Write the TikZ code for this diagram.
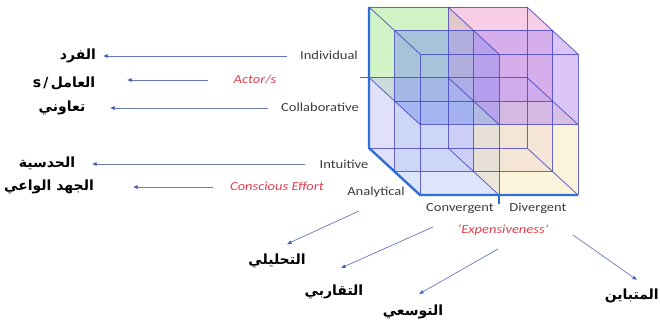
\documentclass[tikz,border=0pt]{standalone}
\usepackage{fontspec}
\setmainfont{Carlito}[FakeStretch=1.18]
\newfontfamily\arabicfont[Script=Arabic]{DejaVu Sans}
\TeXXeTstate=1
\usetikzlibrary{arrows.meta}
\definecolor{txtgray}{HTML}{3C3C3C}
\definecolor{lblred}{HTML}{E0404F}
\definecolor{arrline}{HTML}{6A78B6}
\definecolor{arrhead}{HTML}{3E5CBE}
\definecolor{gridline}{HTML}{4444C0}
\definecolor{thickblue}{HTML}{2F6ED6}
\definecolor{cgreen}{HTML}{A8E890}
\definecolor{cpink}{HTML}{F4A0D2}
\definecolor{cblue}{HTML}{7F98F0}
\definecolor{cviolet}{HTML}{B890F0}
\definecolor{clav}{HTML}{C4C4F6}
\definecolor{cpinklav}{HTML}{E0C4F4}
\definecolor{clblue}{HTML}{BCCEF6}
\definecolor{cyellow}{HTML}{FBEBB8}
\newcommand\cpt[3]{({369+79*(#1)+25.5*(#3)},{7+70.5*(#2)+23.5*(#3)})}
\newcommand\cellbox[4]{%
  \fill[#4,fill opacity=0.3] \cpt{#1}{#2}{#3} -- \cpt{#1+1}{#2}{#3} -- \cpt{#1+1}{#2+1}{#3} -- \cpt{#1}{#2+1}{#3} -- cycle;
  \fill[#4,fill opacity=0.3] \cpt{#1}{#2}{#3+1} -- \cpt{#1+1}{#2}{#3+1} -- \cpt{#1+1}{#2+1}{#3+1} -- \cpt{#1}{#2+1}{#3+1} -- cycle;
  \fill[#4,fill opacity=0.3] \cpt{#1}{#2}{#3} -- \cpt{#1+1}{#2}{#3} -- \cpt{#1+1}{#2}{#3+1} -- \cpt{#1}{#2}{#3+1} -- cycle;
  \fill[#4,fill opacity=0.3] \cpt{#1}{#2+1}{#3} -- \cpt{#1+1}{#2+1}{#3} -- \cpt{#1+1}{#2+1}{#3+1} -- \cpt{#1}{#2+1}{#3+1} -- cycle;
  \fill[#4,fill opacity=0.3] \cpt{#1}{#2}{#3} -- \cpt{#1}{#2+1}{#3} -- \cpt{#1}{#2+1}{#3+1} -- \cpt{#1}{#2}{#3+1} -- cycle;
  \fill[#4,fill opacity=0.3] \cpt{#1+1}{#2}{#3} -- \cpt{#1+1}{#2+1}{#3} -- \cpt{#1+1}{#2+1}{#3+1} -- \cpt{#1+1}{#2}{#3+1} -- cycle;
}
\begin{document}
\begin{tikzpicture}[x=1pt,y=-1pt,
  lab/.style={text=txtgray,font=\fontsize{12.3}{14}\selectfont,inner sep=0pt},
  redlab/.style={text=lblred,font=\fontsize{12.3}{14}\selectfont\itshape,inner sep=0pt},
  ar/.style={text=black,font=\arabicfont\bfseries\fontsize{14}{17}\selectfont,inner sep=0pt},
  arr/.style={draw=arrline,line width=0.7pt,-{Latex[length=4.5pt,width=4pt,color=arrhead]}},
  gridl/.style={draw=gridline,line width=0.85pt,draw opacity=0.8},
  thick axis/.style={draw=thickblue,line width=2.4pt,line join=round}]
\useasboundingbox (0,0) rectangle (660,328);
\fill[white] (0,0) rectangle (660,328);
% cube cells
\cellbox{0}{0}{0}{cgreen}
\cellbox{1}{0}{0}{cpink}
\cellbox{0}{1}{0}{clav}
\cellbox{1}{1}{0}{cpinklav}
\cellbox{0}{1}{1}{clblue}
\cellbox{1}{1}{1}{cyellow}
\cellbox{0}{0}{1}{cblue}
\cellbox{1}{0}{1}{cviolet}
% grid lines
\foreach \a in {0,1,2}{\foreach \b in {0,1,2}{
  \draw[gridl] \cpt{0}{\a}{\b} -- \cpt{2}{\a}{\b};
  \draw[gridl] \cpt{\a}{0}{\b} -- \cpt{\a}{2}{\b};
  \draw[gridl] \cpt{\a}{\b}{0} -- \cpt{\a}{\b}{2};
}}
% thick axes
\coordinate (cA) at (369,7);
\coordinate (cB) at (369,148);
\coordinate (cC) at (420,195);
\coordinate (cD) at (578,195);
\coordinate (tickL) at (369,77.5);
\coordinate (tickB) at (499,195);
\draw[thick axis] (cA) -- (cB) -- (cC) -- (cD);
\draw[draw=thickblue,line width=1.6pt] (tickL) -- ++(-9,0);
\draw[draw=thickblue,line width=1.6pt] (tickB) -- ++(0,9);
% left labels
\node[lab] (indiv) at (329,55) {Individual};
\node[redlab] (actor) at (255,80) {Actor/s};
\node[lab] (collab) at (320,107) {Collaborative};
\node[lab] (intuit) at (344,164) {Intuitive};
\node[redlab] (consc) at (277,186) {Conscious Effort};
\node[lab] (analyt) at (376,192) {Analytical};
\node[lab] (conv) at (460,209) {Convergent};
\node[lab] (div) at (538,208) {Divergent};
\node[redlab] (expens) at (503,230) {`Expensiveness'};
% arabic labels
\node[ar] (fard) at (78,56) {\beginR الفرد\endR};
\node[ar] (amil) at (64,83) {s\,/\,\beginR العامل\endR};
\node[ar] (taawuni) at (62,108) {\beginR تعاوني\endR};
\node[ar] (hads) at (47,163) {\beginR الحدسية\endR};
\node[ar] (juhd) at (49,187) {\beginR الجهد الواعي\endR};
\node[ar] (tahlili) at (277,261) {\beginR التحليلي\endR};
\node[ar] (taqarubi) at (334,292) {\beginR التقاربي\endR};
\node[ar] (tawassui) at (413,312) {\beginR التوسعي\endR};
\node[ar,anchor=east] (mutabayin) at (659,296) {\beginR المتباين\endR};
% arrow end points
\coordinate (s1) at (287,56);  \coordinate (e1) at (103,56);
\coordinate (s2) at (208,80);  \coordinate (e2) at (127,80);
\coordinate (s3) at (268,108); \coordinate (e3) at (110,108);
\coordinate (s4) at (305,164); \coordinate (e4) at (92,164);
\coordinate (s5) at (213,187); \coordinate (e5) at (133,187);
\coordinate (s6) at (359,211); \coordinate (e6) at (287,244);
\coordinate (s7) at (433,227); \coordinate (e7) at (341,268);
\coordinate (s8) at (498,249); \coordinate (e8) at (419,294);
\coordinate (s9) at (573,235); \coordinate (e9) at (637,280);
\foreach \n in {1,...,9}{\draw[arr] (s\n) -- (e\n);}
\end{tikzpicture}
\end{document}
